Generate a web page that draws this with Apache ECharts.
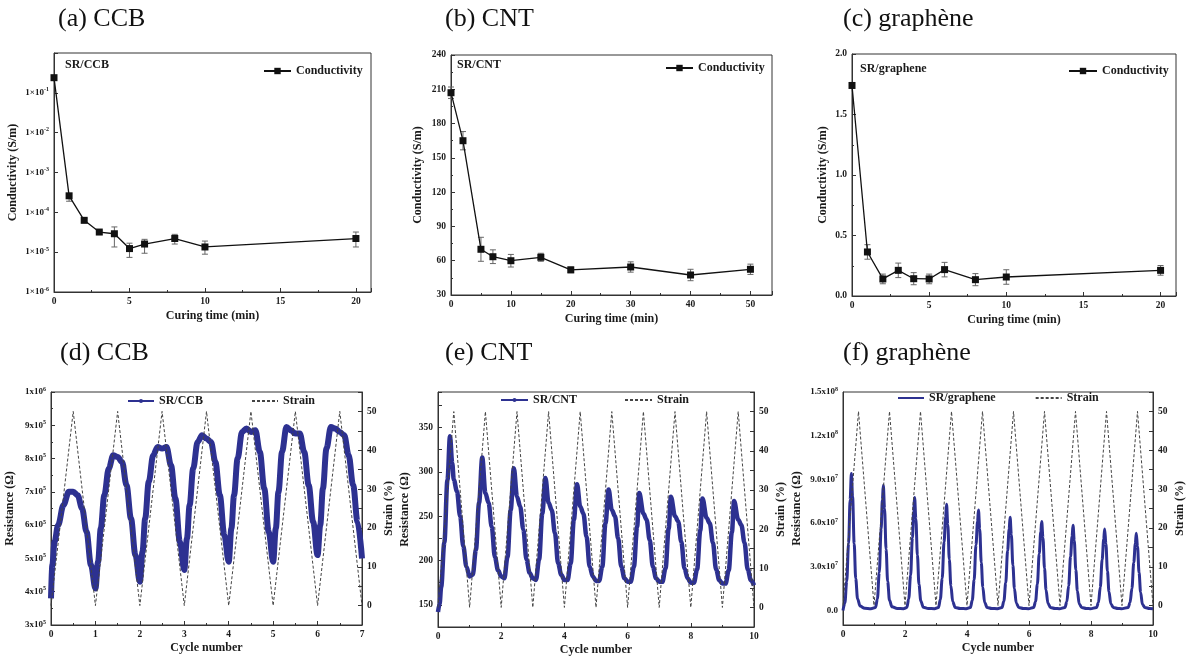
<!DOCTYPE html>
<html><head><meta charset="utf-8">
<script src="https://cdn.jsdelivr.net/npm/echarts@6/dist/echarts.min.js"></script>
<style>html,body{margin:0;padding:0;background:#fff;}#c{width:1192px;height:661px;}</style>
</head><body><div id="c"></div>
<script>
// ---------- panel titles ----------
const panelTitles = ['(a) CCB', '(b) CNT', '(c) graphène', '(d) CCB', '(e) CNT', '(f) graphène'];
const sampleNames = ['SR/CCB', 'SR/CNT', 'SR/graphene'];

// ---------- (a) SR/CCB conductivity vs curing time ----------
const ccbTime = [0, 1, 2, 3, 4, 5, 6, 8, 10, 20];
const ccbCond = [0.24, 2.6e-4, 6.3e-5, 3.2e-5, 2.9e-5, 1.23e-5, 1.6e-5, 2.2e-5, 1.35e-5, 2.2e-5];
const ccbErrLow = [0.24, 1.9e-4, 5.5e-5, 2.8e-5, 1.35e-5, 7.4e-6, 9.4e-6, 1.6e-5, 8.9e-6, 1.35e-5];
const ccbErrHigh = [0.24, 2.9e-4, 7.0e-5, 3.5e-5, 4.3e-5, 1.68e-5, 2.1e-5, 2.8e-5, 1.9e-5, 3.2e-5];

// ---------- (b) SR/CNT ----------
const cntTime = [0, 2, 5, 7, 10, 15, 20, 30, 40, 50];
const cntCond = [207, 165, 70, 63.5, 60, 63, 52, 54.5, 47.5, 52.5];
const cntErr = [5, 8, 10.5, 6, 5.5, 3.5, 2.5, 4.5, 5, 4.5];

// ---------- (c) SR/graphene ----------
const grTime = [0, 1, 2, 3, 4, 5, 6, 8, 10, 20];
const grCond = [1.74, 0.364, 0.141, 0.212, 0.143, 0.141, 0.218, 0.135, 0.157, 0.212];
const grErr = [0.02, 0.06, 0.04, 0.06, 0.05, 0.04, 0.06, 0.05, 0.06, 0.04];

// ---------- (d) SR/CCB resistance vs cycle ----------
const ccbRes = [[0,3.8e5],[0.03,4.8e5],[0.08,5.5e5],[0.16,6.0e5],[0.28,6.6e5],[0.4,7.0e5],[0.5,7.0e5],[0.6,6.9e5],[0.7,6.5e5],[0.8,5.8e5],[0.9,4.8e5],[1.0,4.1e5],
[1.06,4.9e5],[1.12,5.9e5],[1.2,6.9e5],[1.3,7.7e5],[1.4,8.1e5],[1.5,8.05e5],[1.6,7.9e5],[1.7,7.2e5],[1.8,6.2e5],[1.9,5.1e5],[2.0,4.3e5],
[2.06,5.2e5],[2.12,6.2e5],[2.2,7.3e5],[2.3,8.1e5],[2.4,8.35e5],[2.5,8.3e5],[2.6,8.35e5],[2.7,7.8e5],[2.8,6.8e5],[2.9,5.5e5],[3.0,4.65e5],
[3.06,5.6e5],[3.12,6.6e5],[3.2,7.7e5],[3.3,8.5e5],[3.4,8.7e5],[3.5,8.6e5],[3.6,8.5e5],[3.7,7.9e5],[3.8,6.9e5],[3.9,5.7e5],[4.0,4.9e5],
[4.06,5.9e5],[4.12,6.9e5],[4.2,8.0e5],[4.3,8.8e5],[4.4,8.9e5],[4.5,8.8e5],[4.6,8.85e5],[4.7,8.2e5],[4.8,7.1e5],[4.9,5.8e5],[5.0,4.9e5],
[5.06,5.9e5],[5.12,7.0e5],[5.2,8.2e5],[5.3,8.95e5],[5.4,8.85e5],[5.5,8.75e5],[5.6,8.75e5],[5.7,8.2e5],[5.8,7.2e5],[5.9,6.1e5],[6.0,5.1e5],
[6.06,6.0e5],[6.12,7.1e5],[6.2,8.3e5],[6.3,8.95e5],[6.4,8.9e5],[6.5,8.8e5],[6.6,8.7e5],[6.7,8.1e5],[6.8,7.2e5],[6.9,6.1e5],[7.0,5.0e5]];
const strain7 = [[0,0],[0.5,50],[1,0],[1.5,50],[2,0],[2.5,50],[3,0],[3.5,50],[4,0],[4.5,50],[5,0],[5.5,50],[6,0],[6.5,50],[7,0]];

// ---------- (e) SR/CNT resistance ----------
const cntRes = [[0,142],[0.05,151],[0.1,170],[0.2,220],[0.3,291],[0.38,340],[0.45,310],[0.5,291],[0.6,278],[0.7,250],[0.8,216],[0.9,193],[1.0,182],[1.1,184],
[1.2,212],[1.3,265],[1.4,316],[1.5,276],[1.6,265],[1.7,238],[1.8,204],[1.9,189],[2.0,182],[2.1,180],
[2.2,204],[2.3,257],[2.4,304],[2.5,272],[2.6,261],[2.7,235],[2.8,201],[2.9,186],[3.0,180],[3.1,178],
[3.2,201],[3.3,253],[3.4,293],[3.5,265],[3.6,257],[3.7,231],[3.8,197],[3.9,184],[4.0,178],[4.1,178],
[4.2,197],[4.3,246],[4.4,286],[4.5,261],[4.6,253],[4.7,227],[4.8,193],[4.9,182],[5.0,177],[5.1,177],
[5.2,193],[5.3,242],[5.4,280],[5.5,257],[5.6,250],[5.7,225],[5.8,193],[5.9,180],[6.0,176],[6.1,176],
[6.2,193],[6.3,238],[6.37,276],[6.5,253],[6.6,246],[6.7,223],[6.8,193],[6.9,180],[7.0,176],[7.1,176],
[7.2,191],[7.3,236],[7.37,272],[7.5,250],[7.6,244],[7.7,221],[7.8,191],[7.9,180],[8.0,175],[8.1,175],
[8.2,190],[8.3,234],[8.37,270],[8.5,248],[8.6,242],[8.7,220],[8.8,190],[8.9,178],[9.0,174],[9.1,174],
[9.2,189],[9.3,232],[9.37,267],[9.5,246],[9.6,240],[9.7,220],[9.8,190],[9.9,178],[10.0,172]];
const strain10 = [[0,0],[0.5,50],[1,0],[1.5,50],[2,0],[2.5,50],[3,0],[3.5,50],[4,0],[4.5,50],[5,0],[5.5,50],[6,0],[6.5,50],[7,0],[7.5,50],[8,0],[8.5,50],[9,0],[9.5,50],[10,0]];

// ---------- (f) SR/graphene resistance ----------
const grRes = [[0,0],[0.06,0.5e7],[0.12,2.0e7],[0.18,4.6e7],[0.23,7.6e7],[0.27,9.4e7],[0.31,7.8e7],[0.36,4.6e7],[0.41,2.2e7],[0.47,0.8e7],[0.55,0.3e7],[0.7,0.15e7],[0.9,0.12e7],
[1.05,0.2e7],[1.11,0.8e7],[1.17,2.6e7],[1.23,5.6e7],[1.27,7.6e7],[1.30,8.6e7],[1.34,7.0e7],[1.39,4.2e7],[1.44,2.0e7],[1.5,0.7e7],[1.58,0.25e7],[1.75,0.13e7],[1.95,0.12e7],
[2.06,0.2e7],[2.12,0.8e7],[2.18,2.4e7],[2.24,5.0e7],[2.28,6.8e7],[2.31,7.75e7],[2.35,6.3e7],[2.4,3.8e7],[2.45,1.8e7],[2.51,0.65e7],[2.59,0.22e7],[2.75,0.13e7],[2.95,0.12e7],
[3.08,0.2e7],[3.14,0.75e7],[3.2,2.2e7],[3.26,4.7e7],[3.31,6.4e7],[3.34,7.3e7],[3.38,5.9e7],[3.43,3.5e7],[3.48,1.7e7],[3.54,0.6e7],[3.62,0.2e7],[3.78,0.13e7],[3.97,0.12e7],
[4.11,0.2e7],[4.17,0.7e7],[4.23,2.1e7],[4.29,4.5e7],[4.34,6.1e7],[4.37,6.9e7],[4.41,5.6e7],[4.46,3.3e7],[4.51,1.6e7],[4.57,0.55e7],[4.65,0.2e7],[4.8,0.13e7],[4.98,0.12e7],
[5.13,0.2e7],[5.19,0.65e7],[5.25,1.9e7],[5.31,4.1e7],[5.36,5.6e7],[5.39,6.4e7],[5.43,5.2e7],[5.48,3.1e7],[5.53,1.5e7],[5.59,0.5e7],[5.67,0.2e7],[5.82,0.13e7],[5.98,0.12e7],
[6.15,0.2e7],[6.21,0.6e7],[6.27,1.8e7],[6.33,3.9e7],[6.38,5.4e7],[6.41,6.1e7],[6.45,5.0e7],[6.5,2.9e7],[6.55,1.4e7],[6.61,0.5e7],[6.69,0.2e7],[6.84,0.13e7],[6.98,0.12e7],
[7.16,0.2e7],[7.22,0.6e7],[7.28,1.7e7],[7.34,3.7e7],[7.39,5.1e7],[7.42,5.85e7],[7.46,4.8e7],[7.51,2.8e7],[7.56,1.35e7],[7.62,0.45e7],[7.7,0.2e7],[7.85,0.13e7],[7.98,0.12e7],
[8.18,0.2e7],[8.24,0.55e7],[8.3,1.6e7],[8.36,3.5e7],[8.41,4.9e7],[8.44,5.6e7],[8.48,4.6e7],[8.53,2.7e7],[8.58,1.3e7],[8.64,0.45e7],[8.72,0.2e7],[8.87,0.13e7],[8.98,0.12e7],
[9.2,0.2e7],[9.26,0.55e7],[9.32,1.5e7],[9.38,3.3e7],[9.43,4.6e7],[9.46,5.3e7],[9.5,4.4e7],[9.55,2.6e7],[9.6,1.25e7],[9.66,0.4e7],[9.74,0.2e7],[9.89,0.13e7],[10.0,0.12e7]];

// ---------- styling ----------
const SERIF = '"Liberation Serif", "Times New Roman", serif';
const AX = '#333';
const TXT = '#1a1a1a';
const BLUE = '#2d3191';

function isMult(v, step) { const r = v / step; return Math.abs(r - Math.round(r)) < 1e-6; }
const rich = {
  b: { fontFamily: SERIF, fontWeight: 'bold', fontSize: 9, color: TXT },
  s: { fontFamily: SERIF, fontWeight: 'bold', fontSize: 6, color: TXT, padding: [0, 0, 6, 0] }
};
function baseAxis(extra) {
  return Object.assign({
    type: 'value',
    axisLine: { show: true, onZero: false, lineStyle: { color: AX, width: 1 } },
    axisTick: { show: true, inside: true, length: 4, lineStyle: { color: AX } },
    minorTick: { show: true, splitNumber: 2, length: 2, lineStyle: { color: AX } },
    splitLine: { show: false },
    minorSplitLine: { show: false },
    axisLabel: { fontFamily: SERIF, fontWeight: 'bold', fontSize: 9.5, color: TXT, margin: 5, rich: rich },
    nameLocation: 'middle',
    nameTextStyle: { fontFamily: SERIF, fontWeight: 'bold', fontSize: 12, color: TXT }
  }, extra);
}
function mergeLabel(ax, lab) { ax.axisLabel = Object.assign({}, ax.axisLabel, lab); return ax; }

const grids = [
  { left: 54, top: 53, width: 317, height: 239 },
  { left: 451, top: 55, width: 321, height: 240 },
  { left: 852, top: 54, width: 324, height: 242 },
  { left: 51, top: 392, width: 311, height: 233 },
  { left: 438, top: 392, width: 316, height: 235 },
  { left: 843, top: 392, width: 310, height: 233 }
].map(g => Object.assign({ show: true, borderColor: AX, borderWidth: 1, backgroundColor: 'transparent' }, g));

const xAxes = [
  mergeLabel(baseAxis({ gridIndex: 0, min: 0, max: 21, interval: 5, name: 'Curing time (min)', nameGap: 18 }), { formatter: v => isMult(v, 5) ? String(v) : '' }),
  mergeLabel(baseAxis({ gridIndex: 1, min: 0, max: 53.6, interval: 10, name: 'Curing time (min)', nameGap: 18 }), { formatter: v => isMult(v, 10) ? String(v) : '' }),
  mergeLabel(baseAxis({ gridIndex: 2, min: 0, max: 21, interval: 5, name: 'Curing time (min)', nameGap: 18 }), { formatter: v => isMult(v, 5) ? String(v) : '' }),
  baseAxis({ gridIndex: 3, min: 0, max: 7, interval: 1, name: 'Cycle number', nameGap: 17 }),
  baseAxis({ gridIndex: 4, min: 0, max: 10, interval: 2, name: 'Cycle number', nameGap: 17 }),
  baseAxis({ gridIndex: 5, min: 0, max: 10, interval: 2, name: 'Cycle number', nameGap: 17 })
];

function strainAxis(gi) {
  return mergeLabel(baseAxis({ gridIndex: gi, position: 'right', min: -5, max: 55, interval: 5, name: 'Strain (%)', nameGap: 21, nameRotate: 90, minorTick: { show: false } }),
    { formatter: v => isMult(v, 10) ? String(v) : '' });
}
const yAxes = [
  mergeLabel(baseAxis({ gridIndex: 0, type: 'log', logBase: 10, min: 1e-6, max: 1, name: 'Conductivity (S/m)', nameGap: 35, minorTick: { show: false } }),
    { formatter: v => { const e = Math.round(Math.log10(v)); return e === 0 ? '' : '{b|1×10}{s|' + e + '}'; } }),
  baseAxis({ gridIndex: 1, min: 30, max: 240, interval: 30, name: 'Conductivity (S/m)', nameGap: 27 }),
  mergeLabel(baseAxis({ gridIndex: 2, min: 0, max: 2, interval: 0.5, name: 'Conductivity (S/m)', nameGap: 23 }), { formatter: v => v.toFixed(1) }),
  mergeLabel(baseAxis({ gridIndex: 3, min: 3e5, max: 1e6, interval: 1e5, name: 'Resistance (Ω)', nameGap: 35 }),
    { formatter: v => v >= 1e6 ? '{b|' + Math.round(v / 1e6) + 'x10}{s|6}' : '{b|' + Math.round(v / 1e5) + 'x10}{s|5}' }),
  strainAxis(3),
  mergeLabel(baseAxis({ gridIndex: 4, min: 125, max: 390, interval: 25, name: 'Resistance (Ω)', nameGap: 27, minorTick: { show: false } }),
    { formatter: v => isMult(v, 50) ? String(v) : '' }),
  strainAxis(4),
  mergeLabel(baseAxis({ gridIndex: 5, min: -1e7, max: 1.5e8, interval: 1e7, name: 'Resistance (Ω)', nameGap: 40, axisTick: { show: false }, minorTick: { show: false } }),
    { formatter: v => { if (!isMult(v, 3e7)) return ''; if (v === 0) return '{b|0.0}'; return v >= 1e8 ? '{b|' + (v / 1e8).toFixed(1) + 'x10}{s|8}' : '{b|' + (v / 1e7).toFixed(1) + 'x10}{s|7}'; } }),
  strainAxis(5)
];

function zip(xs, ys) { return xs.map((x, i) => [x, ys[i]]); }
function condSeries(gi, xs, ys) {
  return { type: 'line', name: 'Conductivity', xAxisIndex: gi, yAxisIndex: gi, data: zip(xs, ys),
    symbol: 'rect', symbolSize: 7, itemStyle: { color: '#111' }, lineStyle: { color: '#111', width: 1.3 }, z: 3 };
}
function errSeries(gi, data) {
  return { type: 'custom', xAxisIndex: gi, yAxisIndex: gi, data: data, silent: true, z: 2,
    encode: { x: 0, y: [1, 2] },
    renderItem: function (params, api) {
      const x = api.value(0);
      const p1 = api.coord([x, api.value(2)]);
      const p2 = api.coord([x, api.value(1)]);
      const w = 3, st = { stroke: '#666', lineWidth: 1 };
      return { type: 'group', children: [
        { type: 'line', shape: { x1: p1[0], y1: p1[1], x2: p2[0], y2: p2[1] }, style: st },
        { type: 'line', shape: { x1: p1[0] - w, y1: p1[1], x2: p1[0] + w, y2: p1[1] }, style: st },
        { type: 'line', shape: { x1: p2[0] - w, y1: p2[1], x2: p2[0] + w, y2: p2[1] }, style: st }
      ] };
    } };
}
function resSeries(name, gi, yi, data, w) {
  return { type: 'line', name: name, xAxisIndex: gi, yAxisIndex: yi, data: data, smooth: 0.35, smoothMonotone: 'x',
    symbol: 'circle', symbolSize: 4, showSymbol: false, itemStyle: { color: BLUE }, lineStyle: { color: BLUE, width: w }, z: 2 };
}
function strainSeries(gi, yi, data) {
  return { type: 'line', name: 'Strain', xAxisIndex: gi, yAxisIndex: yi, data: data, symbol: 'none',
    itemStyle: { color: '#444' }, lineStyle: { color: '#444', width: 1, type: [3, 2] }, z: 3 };
}

const series = [
  condSeries(0, ccbTime, ccbCond),
  errSeries(0, ccbTime.map((t, i) => [t, ccbErrLow[i], ccbErrHigh[i]])),
  condSeries(1, cntTime, cntCond),
  errSeries(1, cntTime.map((t, i) => [t, cntCond[i] - cntErr[i], cntCond[i] + cntErr[i]])),
  condSeries(2, grTime, grCond),
  errSeries(2, grTime.map((t, i) => [t, grCond[i] - grErr[i], grCond[i] + grErr[i]])),
  resSeries(sampleNames[0], 3, 3, ccbRes, 6),
  strainSeries(3, 4, strain7),
  resSeries(sampleNames[1], 4, 5, cntRes, 4.5),
  strainSeries(4, 6, strain10),
  resSeries(sampleNames[2], 5, 7, grRes, 3),
  strainSeries(5, 8, strain10)
];

const legTxt = { fontFamily: SERIF, fontWeight: 'bold', fontSize: 12, color: TXT };
const strainItem = { name: 'Strain', itemStyle: { opacity: 0 } };
function legend(data, left, top, gap, w, h) {
  return { data: data, left: left, top: top, itemGap: gap, itemWidth: w, itemHeight: h, padding: 0, textStyle: legTxt, selectedMode: false };
}
const legends = [
  legend(['Conductivity'], 263, 65, 10, 27, 8),
  legend(['Conductivity'], 665, 62, 10, 27, 8),
  legend(['Conductivity'], 1068, 65, 10, 28, 8),
  legend([{ name: sampleNames[0] }, strainItem], 127, 395, 48, 26, 5),
  legend([{ name: sampleNames[1] }, strainItem], 500, 394, 47, 27, 5),
  legend([{ name: sampleNames[2], itemStyle: { opacity: 0 } }, strainItem], 897, 392, 39, 26, 5)
];

const titlePos = [[58, 19], [445, 19], [843, 19], [60, 353], [445, 353], [843, 353]];
const innerPos = [[65, 65], [457, 65], [860, 69]];
const graphics = [];
panelTitles.forEach((t, i) => graphics.push({ type: 'text', x: titlePos[i][0], y: titlePos[i][1],
  style: { text: t, font: '26px ' + SERIF, fill: '#111', verticalAlign: 'middle' } }));
sampleNames.forEach((t, i) => graphics.push({ type: 'text', x: innerPos[i][0], y: innerPos[i][1],
  style: { text: t, font: 'bold 12px ' + SERIF, fill: TXT, verticalAlign: 'middle' } }));

const chart = echarts.init(document.getElementById('c'), null, { renderer: 'canvas' });
chart.setOption({
  animation: false,
  backgroundColor: '#fff',
  grid: grids,
  xAxis: xAxes,
  yAxis: yAxes,
  legend: legends,
  series: series,
  graphic: graphics
});
</script></body></html>
